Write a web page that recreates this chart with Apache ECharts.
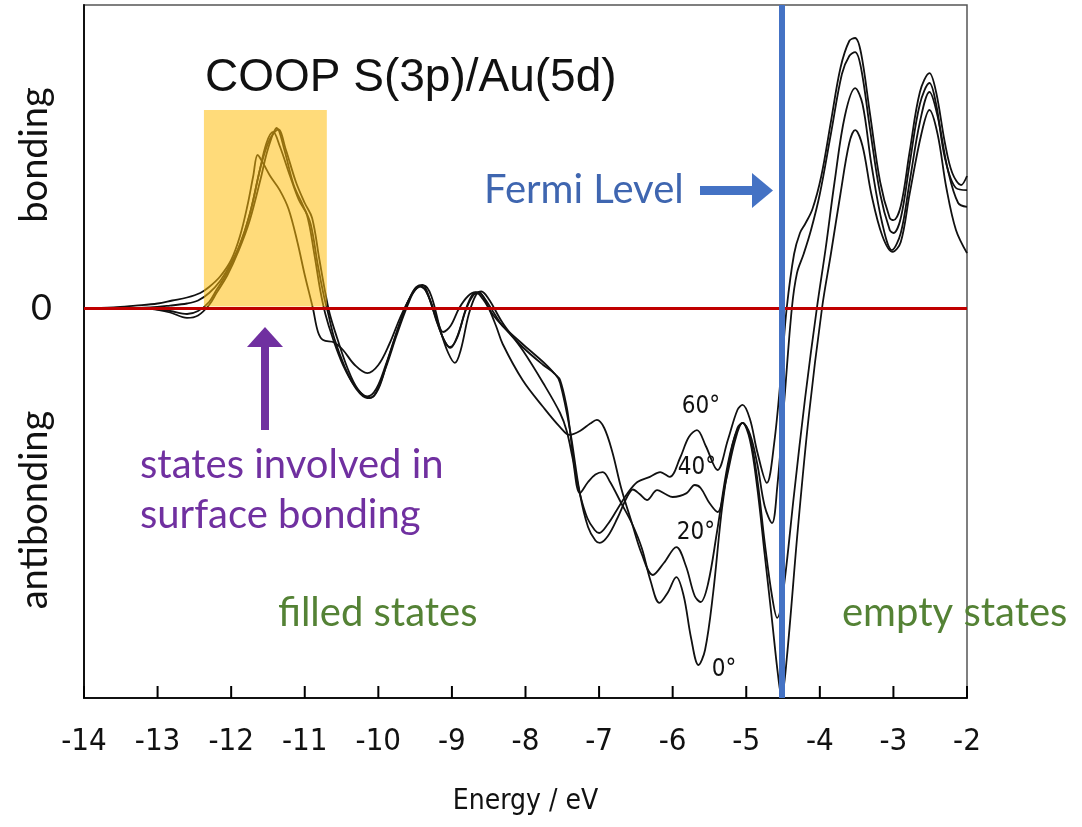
<!DOCTYPE html>
<html>
<head>
<meta charset="utf-8">
<script src="https://cdn.jsdelivr.net/npm/echarts@6/dist/echarts.min.js"></script>
<style>
  html, body { margin: 0; padding: 0; background: #fff; }
  #chart { width: 1082px; height: 827px; }
</style>
</head>
<body>
<div id="chart"></div>
<script>
// energy (eV) / COOP (arbitrary units) pairs
const coop0 = [[-14,0],[-13.5,0],[-13.1,-0.3],[-12.83,-1.5],[-12.6,-3.3],[-12.45,-2.5],[-12.3,1],[-12.2,5],[-12.05,11],[-11.9,19],[-11.75,29],[-11.6,43],[-11.5,53],[-11.38,60],[-11.28,53],[-11.15,41],[-11.02,34],[-10.92,28],[-10.82,14],[-10.74,4],[-10.68,-2],[-10.6,-10],[-10.45,-20],[-10.3,-27],[-10.15,-30],[-10.05,-29],[-9.9,-20],[-9.75,-9],[-9.6,1],[-9.5,6],[-9.38,7.5],[-9.28,4],[-9.15,-8],[-9.05,-15],[-8.96,-18.3],[-8.88,-14],[-8.77,-2],[-8.67,4.5],[-8.6,5.5],[-8.5,3],[-8.31,-5],[-8.04,-14],[-7.76,-25],[-7.53,-35],[-7.44,-41],[-7.36,-50],[-7.26,-61.7],[-7.15,-58],[-7.05,-55.5],[-6.95,-54.7],[-6.85,-58],[-6.7,-65],[-6.55,-72],[-6.42,-80],[-6.3,-91],[-6.18,-98.3],[-6.07,-95],[-5.95,-89.7],[-5.85,-96],[-5.75,-110],[-5.65,-119],[-5.56,-114],[-5.45,-95],[-5.32,-65],[-5.18,-45],[-5.05,-38.3],[-4.95,-44],[-4.85,-60],[-4.75,-82],[-4.65,-104],[-4.57,-122],[-4.52,-129.7],[-4.45,-117],[-4.3,-74],[-4.15,-36],[-3.97,0],[-3.85,18],[-3.72,38],[-3.6,55],[-3.52,59.3],[-3.42,54],[-3.3,38],[-3.15,24],[-3.01,18.7],[-2.9,22],[-2.78,38],[-2.62,58],[-2.51,66],[-2.4,58],[-2.28,40],[-2.15,26],[-2,18.3]];

const coop20 = [[-14,0],[-13.5,0],[-13.1,-0.2],[-12.83,-1],[-12.6,-2],[-12.45,-1],[-12.3,2],[-12.2,6],[-12.05,12],[-11.9,20],[-11.75,31],[-11.62,45],[-11.52,55],[-11.43,58.7],[-11.34,54],[-11.2,44],[-11.08,36],[-10.97,31],[-10.87,18],[-10.79,6],[-10.72,-2],[-10.62,-10],[-10.48,-19],[-10.32,-26],[-10.15,-29.5],[-10.03,-27],[-9.9,-19],[-9.75,-8],[-9.6,2],[-9.5,6],[-9.42,7.3],[-9.32,4],[-9.2,-5],[-9.1,-11],[-9.02,-13.3],[-8.92,-9],[-8.8,0],[-8.7,4.5],[-8.63,5],[-8.52,1],[-8.4,-6],[-8.31,-12],[-8.04,-24],[-7.76,-33],[-7.53,-39.7],[-7.4,-42.3],[-7.26,-41],[-7.12,-38.5],[-7.03,-37.3],[-6.93,-40],[-6.82,-48],[-6.7,-60],[-6.55,-72],[-6.42,-82],[-6.27,-89],[-6.12,-85],[-5.95,-79.7],[-5.82,-86],[-5.7,-96],[-5.62,-98],[-5.52,-92],[-5.4,-75],[-5.25,-52],[-5.12,-40],[-5.05,-38.3],[-4.95,-43],[-4.85,-57],[-4.75,-78],[-4.65,-96],[-4.58,-103.3],[-4.5,-95],[-4.35,-62],[-4.2,-30],[-4.04,0],[-3.92,20],[-3.8,42],[-3.66,64],[-3.52,73.3],[-3.42,68],[-3.3,48],[-3.15,28],[-3.02,19.3],[-2.9,25],[-2.78,42],[-2.64,62],[-2.51,72],[-2.4,64],[-2.26,46],[-2.12,35],[-2,33.7]];

const coop40 = [[-14,0],[-13.5,0],[-13.1,0.2],[-12.83,0.8],[-12.6,1.5],[-12.45,2.5],[-12.3,5],[-12.15,9],[-12,15],[-11.85,23],[-11.72,34],[-11.6,47],[-11.48,56],[-11.36,59.5],[-11.26,53],[-11.12,42],[-11,35],[-10.9,30],[-10.8,16],[-10.72,5],[-10.66,-2],[-10.56,-10],[-10.42,-20],[-10.28,-27],[-10.12,-30],[-10,-27],[-9.88,-18],[-9.72,-6],[-9.58,3],[-9.46,7.3],[-9.36,6],[-9.25,-1],[-9.12,-10],[-9.03,-13],[-8.93,-10],[-8.82,-1],[-8.72,4.5],[-8.64,5.3],[-8.55,3],[-8.42,-2],[-8.31,-6],[-8.04,-13],[-7.76,-19],[-7.6,-22],[-7.53,-25],[-7.4,-40],[-7.26,-62],[-7.15,-73],[-7.05,-77.5],[-6.99,-78.3],[-6.88,-76],[-6.75,-70],[-6.62,-63],[-6.54,-60.5],[-6.45,-62],[-6.35,-64],[-6.21,-60.7],[-6.1,-62],[-6,-63],[-5.81,-61.7],[-5.7,-59],[-5.62,-60],[-5.5,-65],[-5.39,-68],[-5.28,-58],[-5.15,-44],[-5.05,-38.3],[-4.95,-42],[-4.85,-52],[-4.75,-66],[-4.65,-71.7],[-4.58,-60],[-4.48,-30],[-4.38,0],[-4.31,11.7],[-4.22,18],[-4.12,26],[-4,38],[-3.85,58],[-3.7,78],[-3.6,84],[-3.52,85.3],[-3.44,80],[-3.32,60],[-3.18,38],[-3.05,26],[-3,25],[-2.9,30],[-2.78,48],[-2.64,68],[-2.51,75],[-2.42,68],[-2.3,50],[-2.15,40],[-2,39.3]];

const coop60 = [[-14,0],[-13.6,0.2],[-13.3,0.8],[-13,1.5],[-12.8,2.5],[-12.6,3.5],[-12.42,5],[-12.3,7],[-12.15,10.5],[-12,16],[-11.88,24],[-11.78,34],[-11.7,44],[-11.64,51],[-11.56,48],[-11.47,44],[-11.34,39.3],[-11.22,33],[-11.1,22],[-11,11],[-10.89,0],[-10.82,-8],[-10.75,-10.7],[-10.6,-11.5],[-10.48,-14],[-10.32,-19],[-10.15,-21.7],[-10,-19],[-9.85,-12],[-9.7,-3],[-9.58,3],[-9.48,7],[-9.4,7.7],[-9.3,3],[-9.2,-4],[-9.12,-8],[-9.02,-6],[-8.9,0],[-8.78,4],[-8.68,5.3],[-8.58,3],[-8.45,-2],[-8.31,-6],[-8.04,-12],[-7.76,-18],[-7.6,-22],[-7.53,-24],[-7.44,-33],[-7.4,-40],[-7.34,-52],[-7.26,-62],[-7.16,-70],[-7.06,-74],[-7,-75],[-6.88,-72],[-6.75,-67],[-6.62,-62],[-6.48,-58],[-6.31,-56.3],[-6.17,-54.7],[-6.04,-56.3],[-5.9,-50],[-5.78,-43],[-5.67,-40.7],[-5.55,-46],[-5.39,-54],[-5.25,-44],[-5.12,-34],[-5.05,-32.3],[-4.95,-37],[-4.85,-48],[-4.72,-58.3],[-4.62,-45],[-4.52,-20],[-4.45,0],[-4.35,18],[-4.27,25],[-4.2,28],[-4.1,33],[-3.98,44],[-3.85,62],[-3.72,80],[-3.6,89],[-3.52,90],[-3.44,85],[-3.32,65],[-3.18,42],[-3.05,30],[-3,29.3],[-2.9,34],[-2.78,52],[-2.64,72],[-2.51,78.3],[-2.42,72],[-2.3,55],[-2.2,45],[-2.08,41],[-2,44]];

const energyTicks = [-14, -13, -12, -11, -10, -9, -8, -7, -6, -5, -4, -3, -2];
const fermiLevel = -4.52;
const surfaceBand = [-12.37, -10.70];   // highlighted energy window
const surfaceTop = 66;

const narrow = "'Liberation Sans Narrow', 'DejaVu Sans Condensed', 'Arial Narrow', sans-serif";
const calibriLike = "Lato, 'Open Sans', sans-serif";

const chart = echarts.init(document.getElementById('chart'));

function curve(data) {
  return {
    type: 'line', data: data, smooth: 0.35, symbol: 'none', z: 2,
    lineStyle: { color: '#111', width: 1.8 }
  };
}

function txt(x, y, text, font, fill) {
  return { type: 'text', x: x, y: y, z: 5,
    style: { text: text, font: font, fill: fill, verticalAlign: 'middle' } };
}

function centred(x, y, text, font, rotation) {
  return { type: 'text', x: x, y: y, z: 5, rotation: rotation || 0,
    style: { text: text, font: font, fill: '#111', align: 'center', verticalAlign: 'middle' } };
}

const option = {
  animation: false,
  grid: { left: 84, right: 115, top: 5, bottom: 129, show: true, borderColor: '#555', borderWidth: 1.5 },
  xAxis: {
    type: 'value', min: -14, max: -2, interval: 1, position: 'bottom',
    name: 'Energy / eV', nameLocation: 'middle', nameGap: 90,
    nameTextStyle: { fontFamily: narrow, fontSize: 28, color: '#111' },
    axisLine: { onZero: false, lineStyle: { color: '#111', width: 2 } },
    axisTick: { show: false },
    axisLabel: { fontFamily: narrow, fontSize: 31, color: '#111', margin: 28 },
    splitLine: { show: false }
  },
  yAxis: {
    type: 'value', min: -130, max: 101, interval: 10,
    axisLine: { show: true, onZero: false, lineStyle: { color: '#111', width: 2 } },
    axisTick: { show: false },
    axisLabel: {
      fontFamily: calibriLike, fontSize: 36, color: '#111', margin: 32,
      formatter: function (v) { return v === 0 ? '0' : ''; }
    },
    splitLine: { show: false }
  },
  series: [
    curve(coop0), curve(coop20), curve(coop40), curve(coop60),
    {
      type: 'line', data: [], z: 4, silent: true,
      markLine: {
        silent: true, symbol: 'none', label: { show: false },
        data: [
          { yAxis: 0, lineStyle: { color: '#C00000', width: 3, type: 'solid' } },
          { xAxis: fermiLevel, lineStyle: { color: '#4472C4', width: 6, type: 'solid' } }
        ]
      }
    }
  ]
};

chart.setOption(option);

// translucent highlight over the curves, placed through the axes
const p0 = chart.convertToPixel({ gridIndex: 0 }, [surfaceBand[0], surfaceTop]);
const p1 = chart.convertToPixel({ gridIndex: 0 }, [surfaceBand[1], 0]);

// inward tick marks on the energy axis
const tickMarks = energyTicks.map(function (e) {
  const p = chart.convertToPixel({ gridIndex: 0 }, [e, -130]);
  return { type: 'rect', z: 6, silent: true,
    shape: { x: p[0] - 1, y: p[1] - 12, width: 2, height: 12 },
    style: { fill: '#000' } };
});

chart.setOption({
  graphic: tickMarks.concat([
    { type: 'rect', z: 3, silent: true,
      shape: { x: p0[0], y: p0[1], width: p1[0] - p0[0], height: p1[1] - p0[1] - 1.5 },
      style: { fill: 'rgba(255,190,13,0.55)' } },
    txt(205, 78, 'COOP S(3p)/Au(5d)', "46px 'Liberation Sans', Arial, sans-serif", '#111'),
    txt(484, 190, 'Fermi Level', '40px ' + calibriLike, '#3F66B0'),
    { type: 'rect', z: 5, shape: { x: 700, y: 186, width: 55, height: 9 }, style: { fill: '#4472C4' } },
    { type: 'polygon', z: 5, shape: { points: [[752, 173], [773, 190.5], [752, 208]] }, style: { fill: '#4472C4' } },
    { type: 'rect', z: 5, shape: { x: 261, y: 344, width: 8, height: 86 }, style: { fill: '#7030A0' } },
    { type: 'polygon', z: 5, shape: { points: [[247, 347], [265, 327], [283, 347]] }, style: { fill: '#7030A0' } },
    txt(140, 465, 'states involved in', '40px ' + calibriLike, '#7030A0'),
    txt(140, 515, 'surface bonding', '40px ' + calibriLike, '#7030A0'),
    txt(278, 613, 'filled states', '40px ' + calibriLike, '#548235'),
    txt(842, 613, 'empty states', '40px ' + calibriLike, '#548235'),
    centred(35, 155, 'bonding', '38px ' + calibriLike, Math.PI / 2),
    centred(35, 510, 'antibonding', '38px ' + calibriLike, Math.PI / 2),
    centred(701, 407, '60°', '24px ' + narrow),
    centred(697, 468, '40°', '24px ' + narrow),
    centred(696, 533, '20°', '24px ' + narrow),
    centred(724, 670, '0°', '24px ' + narrow)
  ])
});
</script>
</body>
</html>
